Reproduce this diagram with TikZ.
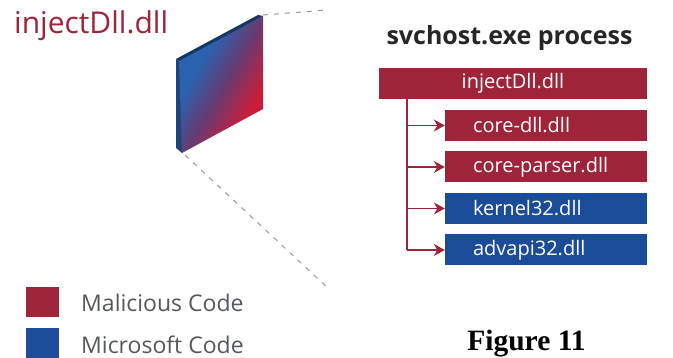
\documentclass[tikz,border=0pt]{standalone}
\usepackage{fontspec}
\setmainfont{Open Sans}
\newfontfamily\figfont{Liberation Serif}
\usetikzlibrary{
    arrows.meta,
    positioning
}
\definecolor{malred}{HTML}{9E2439}
\definecolor{msblue}{HTML}{1A4C9A}
\definecolor{slabred}{HTML}{C81E3A}
\definecolor{slabblue}{HTML}{2A62B0}
\definecolor{slabmid}{HTML}{6A3A70}
\definecolor{legendgray}{HTML}{55585C}
\pgfdeclarehorizontalshading{slabfade}{100bp}{color(0bp)=(slabblue); color(36bp)=(slabblue); color(52bp)=(slabmid); color(68bp)=(slabred); color(100bp)=(slabred)}
\tikzset{
    dllbox/.style={minimum height=31pt, text=white, inner sep=0pt, font=\fontsize{20}{24}\selectfont},
    childbox/.style={dllbox, text width=202pt, align=left, execute at begin node={\hspace*{28pt}}},
    keybox/.style={minimum width=33pt, minimum height=30pt, inner sep=0pt},
    keylabel/.style={text=legendgray, font=\fontsize{23}{27}\selectfont, anchor=west, inner sep=0pt},
    dotline/.style={draw=gray!80, line width=1pt, dash pattern=on 5pt off 6pt},
    feed/.style={draw=malred, line width=1.6pt, -{Stealth[length=11pt,width=12pt]}}
}

\begin{document}
\begin{tikzpicture}[x=1pt, y=1pt]
    \useasboundingbox (0, 0) rectangle (673, -358);
    \node[text=malred, font=\fontsize{30}{36}\selectfont, anchor=base west, inner sep=0pt] (dllname) at (14, -34) {injectDll.dll};
    % slab
    \fill[slabblue!55!black] (176, -59) -- (258, -15) -- (263, -16) -- (181, -62) -- cycle;
    \fill[slabblue!70!black] (176, -59) -- (181, -62) -- (182, -153) -- (176, -148) -- cycle;
    \shade[shading=slabfade, shading angle=-30]
        (179, -61) -- (263, -16) -- (263, -109) -- (182, -153) -- cycle;
    \coordinate (slabtop) at (263, -15);
    \coordinate (slabbot) at (185, -155);
    \coordinate (paneltop) at (327, -10);
    \coordinate (panelbot) at (330, -290);
    \draw[dotline] (slabtop) -- (paneltop);
    \draw[dotline] (slabbot) -- (panelbot);
    % process
    \node[font=\bfseries\fontsize{25}{30}\selectfont, text=black!85, inner sep=0pt, anchor=base] (procname) at (509.5, -45) {svchost.exe process};
    \node[dllbox, fill=malred, minimum width=268pt] (inject) at (513, -83.5) {injectDll.dll};
    \node[childbox, fill=malred] (coredll) at (546, -125.5) {core-dll.dll};
    \node[childbox, fill=malred] (coreparser) at (546, -167) {core-parser.dll};
    \node[childbox, fill=msblue] (kernel) at (546, -208.5) {kernel32.dll};
    \node[childbox, fill=msblue] (advapi) at (546, -250) {advapi32.dll};
    \coordinate (trunktop) at (407, -99);
    \coordinate (trunkbot) at (407, -250);
    \coordinate (tap1) at (407, -125.5);
    \coordinate (tap2) at (407, -167);
    \coordinate (tap3) at (407, -208.5);
    \draw[draw=malred, line width=1.6pt] (trunktop) -- (trunkbot);
    \draw
    (tap1) edge[feed] (coredll.west)
    (tap2) edge[feed] (coreparser.west)
    (tap3) edge[feed] (kernel.west)
    (trunkbot) edge[feed] (advapi.west);
    % legend
    \node[keybox, fill=malred] (keymal) at (42.5, -302) {};
    \node[keybox, fill=msblue, anchor=north] (keyms) at (42.5, -328) {};
    \node[keylabel] (malabel) at (81, -303) {Malicious Code};
    \node[keylabel] (mslabel) at (81, -345) {Microsoft Code};
    \node[font=\figfont\bfseries\fontsize{29.5}{34}\selectfont, inner sep=0pt, anchor=base] (figname) at (526.5, -351) {Figure 11};
\end{tikzpicture}
\end{document}
